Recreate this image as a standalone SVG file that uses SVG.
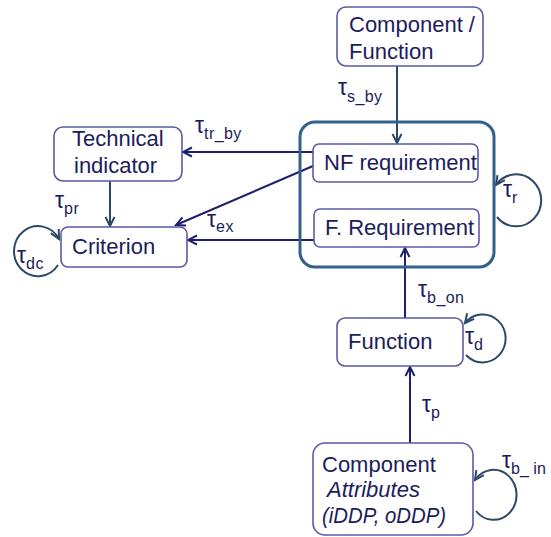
<svg xmlns="http://www.w3.org/2000/svg" width="551" height="537" viewBox="0 0 551 537">
<defs>
<style>
.box{fill:#fff;stroke:#5a5aa6;stroke-width:1.6}
.cont{fill:none;stroke:#34608c;stroke-width:3}
.t{font-family:"Liberation Sans",Arial,sans-serif;font-size:22px;fill:#1c1c5c}
.it{font-style:italic}
.tau{font-family:"Liberation Sans",Arial,sans-serif;font-size:23px;fill:#1c1c5c}
.sub{font-size:16px;letter-spacing:0.4px}
.navy{fill:none;stroke:#1f1f6e;stroke-width:2}
.slate{fill:none;stroke:#2c4866;stroke-width:2}
</style>
<marker id="an" markerUnits="userSpaceOnUse" markerWidth="12" markerHeight="12" refX="10" refY="5" orient="auto" viewBox="0 0 12 10">
<path d="M1,0.5 L10,5 L1,9.5" fill="none" stroke="#1f1f6e" stroke-width="2"/>
</marker>
<marker id="as" markerUnits="userSpaceOnUse" markerWidth="12" markerHeight="12" refX="10" refY="5" orient="auto" viewBox="0 0 12 10">
<path d="M1,0.5 L10,5 L1,9.5" fill="none" stroke="#2c4866" stroke-width="2"/>
</marker>
</defs>
<rect width="551" height="537" fill="#fff"/>

<g id="connectors">
<line class="slate" x1="397" y1="66" x2="397" y2="143" marker-end="url(#as)"/>
<line class="navy" x1="313" y1="152" x2="183" y2="152" marker-end="url(#an)"/>
<line class="navy" x1="313" y1="166" x2="176" y2="225" marker-end="url(#an)"/>
<line class="navy" x1="314" y1="240" x2="188" y2="240" marker-end="url(#an)"/>
<line class="slate" x1="110" y1="181" x2="110" y2="226" marker-end="url(#as)"/>
<line class="navy" x1="405" y1="318" x2="405" y2="248" marker-end="url(#an)"/>
<line class="navy" x1="410" y1="443" x2="410" y2="367" marker-end="url(#an)"/>
<path class="slate" d="M497,217 A25,26 0 1 0 496,185" marker-end="url(#as)"/>
<path class="slate" d="M58,265 A24,25 0 1 1 59,239" marker-end="url(#as)"/>
<path class="slate" d="M466,355 A23,24 0 1 0 465,323" marker-end="url(#as)"/>
<path class="slate" d="M476,511 A23,25 0 1 0 475,480" marker-end="url(#as)"/>
</g>

<g id="labels">
<text class="tau" x="338" y="95">τ<tspan class="sub" dy="7">s_by</tspan></text>
<text class="tau" x="195" y="133">τ<tspan class="sub" dy="6">tr_by</tspan></text>
<text class="tau" x="55" y="208">τ<tspan class="sub" dy="6">pr</tspan></text>
<text class="tau" x="207" y="227">τ<tspan class="sub" dy="5">ex</tspan></text>
<text class="tau" x="17" y="263">τ<tspan class="sub" dy="6">dc</tspan></text>
<text class="tau" x="503" y="197">τ<tspan class="sub" dy="6">r</tspan></text>
<text class="tau" x="418" y="297">τ<tspan class="sub" dy="6">b_on</tspan></text>
<text class="tau" x="465" y="344">τ<tspan class="sub" dy="6">d</tspan></text>
<text class="tau" x="422" y="412">τ<tspan class="sub" dy="6">p</tspan></text>
<text class="tau" x="502" y="468">τ<tspan class="sub" dy="6" style="letter-spacing:0">b_ in</tspan></text>
</g>

<g id="component-function">
<rect class="box" x="337" y="7" width="146" height="59" rx="9"/>
<text class="t" x="349" y="32">Component /</text>
<text class="t" x="349" y="59">Function</text>
</g>

<g id="requirements-group">
<rect class="cont" x="300" y="122" width="194" height="145" rx="15"/>
</g>

<g id="nf-requirement">
<rect class="box" x="313" y="144" width="165" height="38" rx="6"/>
<text class="t" x="324" y="170">NF requirement</text>
</g>

<g id="f-requirement">
<rect class="box" x="314" y="209" width="165" height="38" rx="6"/>
<text class="t" x="325" y="235">F. Requirement</text>
</g>

<g id="technical-indicator">
<rect class="box" x="54" y="127" width="128" height="54" rx="9"/>
<text class="t" x="72" y="146">Technical</text>
<text class="t" x="74" y="173">indicator</text>
</g>

<g id="criterion">
<rect class="box" x="61" y="227" width="126" height="40" rx="7"/>
<text class="t" x="72" y="254">Criterion</text>
</g>

<g id="function">
<rect class="box" x="337" y="318" width="126" height="48" rx="8"/>
<text class="t" x="348" y="349">Function</text>
</g>

<g id="component-attributes">
<rect class="box" x="313" y="443" width="160" height="92" rx="12"/>
<text class="t" x="322" y="472">Component</text>
<text class="t it" x="327" y="497">Attributes</text>
<text class="t it" x="322" y="523" textLength="124" lengthAdjust="spacingAndGlyphs">(iDDP, oDDP)</text>
</g>
</svg>
